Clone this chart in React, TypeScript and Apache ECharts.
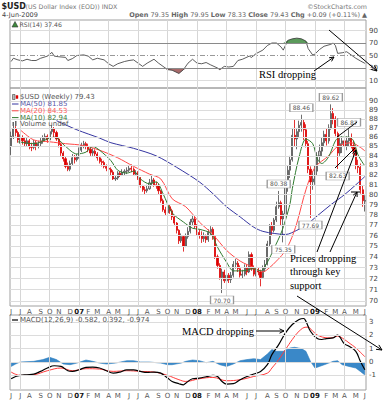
import React, { useEffect, useRef } from "react";
import * as echarts from "echarts";

const FONT = "DejaVu Sans";
const SERIF = "Liberation Serif";

const START_MS = Date.UTC(2006, 5, 5);
const WEEK_MS = 7 * 86400000;
const WEEK_COUNT = 157;
const weeks: string[] = Array.from({ length: WEEK_COUNT }, (_, i) =>
  new Date(START_MS + i * WEEK_MS).toISOString().slice(0, 10)
);

// weekly [open, close, low, high]
const ohlc: number[][] = [
  [85.0, 86.1, 84.1, 86.6], [86.1, 86.9, 85.8, 87.3], [86.9, 86.5, 86.1, 87.2], [86.5, 85.7, 85.4, 86.7],
  [85.7, 85.9, 85.3, 86.3], [85.9, 85.6, 85.2, 86.2], [85.6, 85.3, 85.0, 86.0], [85.3, 85.6, 85.0, 85.9],
  [85.6, 85.0, 84.7, 85.8], [85.0, 84.9, 84.5, 85.4], [84.9, 85.4, 84.7, 85.7], [85.4, 85.0, 84.6, 85.6],
  [85.0, 85.3, 84.8, 85.6], [85.3, 85.6, 85.0, 85.9], [85.6, 85.9, 85.3, 86.2], [85.9, 86.1, 85.6, 86.4],
  [86.1, 85.7, 85.4, 86.3], [85.7, 86.6, 85.5, 86.9], [86.6, 86.9, 86.3, 87.3], [86.9, 86.5, 86.0, 87.1],
  [86.5, 85.8, 85.6, 86.7], [85.8, 85.2, 84.9, 86.0], [85.2, 84.3, 84.0, 85.4], [84.3, 83.7, 83.4, 84.5],
  [83.7, 82.9, 82.7, 83.9], [82.9, 82.6, 82.4, 83.3], [82.6, 83.2, 82.4, 83.5], [83.2, 83.8, 83.0, 84.2],
  [83.8, 83.6, 83.2, 84.1], [83.6, 83.9, 83.4, 84.2], [83.9, 84.6, 83.7, 84.9], [84.6, 85.1, 84.4, 85.4],
  [85.1, 85.3, 84.8, 85.6], [85.3, 85.0, 84.7, 85.5], [85.0, 84.7, 84.4, 85.3], [84.7, 84.3, 84.0, 84.9],
  [84.3, 84.5, 84.0, 84.8], [84.5, 84.2, 83.9, 84.7], [84.2, 83.8, 83.5, 84.4], [83.8, 83.4, 83.2, 84.0],
  [83.4, 83.3, 82.9, 83.7], [83.3, 82.9, 82.7, 83.5], [82.9, 82.7, 82.4, 83.1], [82.7, 82.6, 82.3, 83.0],
  [82.6, 82.3, 82.0, 82.8], [82.3, 81.6, 81.5, 82.5], [81.6, 81.7, 81.4, 82.0], [81.7, 82.2, 81.5, 82.4],
  [82.2, 82.0, 81.8, 82.4], [82.0, 82.3, 81.9, 82.6], [82.3, 82.4, 82.0, 82.6], [82.4, 82.5, 82.1, 82.8],
  [82.5, 82.7, 82.3, 83.0], [82.7, 82.6, 82.3, 83.1], [82.6, 82.1, 81.9, 82.8], [82.1, 82.2, 81.9, 82.5],
  [82.2, 81.7, 81.5, 82.4], [81.7, 80.9, 80.7, 81.8], [80.9, 80.5, 80.3, 81.0], [80.5, 80.4, 80.0, 80.8],
  [80.4, 80.6, 80.2, 81.0], [80.6, 81.2, 80.5, 81.6], [81.2, 81.5, 80.9, 82.0], [81.5, 81.0, 80.8, 81.7],
  [81.0, 80.9, 80.6, 81.3], [80.9, 80.4, 80.0, 81.1], [80.4, 79.4, 79.2, 80.5], [79.4, 78.5, 78.3, 79.6],
  [78.5, 78.2, 77.9, 78.8], [78.2, 78.8, 78.0, 79.1], [78.8, 78.4, 78.1, 79.0], [78.4, 77.8, 77.5, 78.6],
  [77.8, 77.2, 76.9, 78.0], [77.2, 76.5, 76.2, 77.3], [76.5, 75.5, 75.2, 76.6], [75.5, 75.9, 75.3, 76.2],
  [75.9, 75.0, 74.48, 76.0], [75.0, 75.9, 74.9, 76.2], [75.9, 76.4, 75.7, 76.8], [76.4, 77.3, 76.2, 77.6],
  [77.3, 77.6, 77.0, 77.9], [77.6, 76.9, 76.7, 77.8], [76.9, 76.3, 76.0, 77.1], [76.3, 76.0, 75.7, 76.6],
  [76.0, 75.7, 75.3, 76.4], [75.7, 75.9, 75.4, 76.3], [75.9, 75.6, 75.3, 76.1], [75.6, 76.3, 75.4, 76.6],
  [76.3, 76.6, 76.0, 76.9], [76.6, 75.9, 75.6, 76.8], [75.9, 74.0, 73.8, 76.0], [74.0, 73.2, 72.9, 74.2],
  [73.2, 72.1, 71.9, 73.4], [72.1, 72.6, 70.7, 72.9], [72.6, 71.8, 71.6, 72.8], [71.8, 72.3, 71.6, 72.6],
  [72.3, 71.9, 71.6, 72.5], [71.9, 72.3, 71.6, 72.6], [72.3, 73.3, 72.1, 73.6], [73.3, 73.4, 72.9, 73.8],
  [73.4, 72.9, 72.6, 73.6], [72.9, 72.3, 72.1, 73.2], [72.3, 72.4, 72.0, 72.8], [72.4, 73.0, 72.2, 73.3],
  [73.0, 72.6, 72.3, 73.3], [72.6, 74.2, 72.5, 74.5], [74.2, 72.9, 72.7, 74.4], [72.9, 72.4, 72.2, 73.2],
  [72.4, 72.7, 72.2, 73.0], [72.7, 72.6, 72.3, 73.0], [72.6, 72.1, 71.3, 72.8], [72.1, 72.9, 72.0, 73.2],
  [72.9, 73.3, 72.6, 73.7], [73.3, 75.2, 73.2, 75.5], [75.2, 76.9, 75.0, 77.1], [76.9, 76.5, 76.0, 77.3],
  [76.5, 77.5, 76.3, 77.7], [77.5, 78.8, 77.3, 79.3], [78.8, 79.2, 78.6, 80.38], [79.2, 77.6, 77.0, 79.4],
  [77.6, 78.1, 75.35, 78.4], [78.1, 80.8, 77.8, 81.0], [80.8, 82.5, 80.3, 83.0], [82.5, 83.6, 81.7, 84.0],
  [83.6, 86.2, 83.4, 87.0], [86.2, 85.8, 85.0, 87.9], [85.8, 86.6, 84.7, 87.0], [86.6, 87.3, 85.9, 87.8],
  [87.3, 87.6, 86.6, 88.46], [87.6, 86.8, 85.7, 87.9], [86.8, 85.3, 84.9, 87.4], [85.3, 82.6, 82.2, 85.6],
  [82.6, 81.3, 77.69, 82.9], [81.3, 81.6, 80.5, 82.4], [81.6, 82.4, 81.0, 83.0], [82.4, 84.0, 81.9, 84.4],
  [84.0, 84.5, 83.3, 85.2], [84.5, 85.4, 83.9, 86.0], [85.4, 86.3, 85.0, 86.7], [86.3, 85.6, 85.1, 86.9],
  [85.6, 87.0, 85.3, 87.4], [87.0, 88.6, 86.8, 89.62], [88.6, 88.0, 87.4, 89.2], [88.0, 86.4, 86.1, 88.3],
  [86.4, 84.3, 82.63, 86.6], [84.3, 85.3, 84.0, 86.0], [85.3, 85.6, 84.3, 86.1], [85.6, 85.0, 84.4, 86.3],
  [85.0, 85.6, 84.6, 86.1], [85.6, 85.9, 85.0, 86.87], [85.9, 85.1, 84.8, 86.4], [85.1, 84.5, 83.9, 85.6],
  [84.5, 83.0, 82.6, 84.9], [83.0, 82.8, 82.2, 83.6], [82.8, 80.5, 80.1, 83.2], [80.5, 79.4, 78.8, 80.9],
  [79.35, 79.43, 78.33, 79.95],
];

// moving averages: [week index, value]
const ma50: number[][] = [
  [20, 87.8], [29, 86.8], [39, 85.9], [44, 85.4], [54, 84.8], [64, 84.0], [73, 82.8], [83, 81.3],
  [89, 80.1], [95, 78.8], [101, 77.8], [107, 76.8], [111, 76.4], [116, 76.2], [121, 76.1], [126, 76.5],
  [130, 77.0], [135, 77.9], [141, 79.0], [147, 80.0], [152, 81.0], [156, 81.85],
];
const ma20: number[][] = [
  [4, 86.8], [10, 85.7], [17, 85.5], [24, 85.3], [32, 85.1], [39, 84.6], [47, 83.8], [54, 82.9],
  [61, 82.1], [66, 81.6], [71, 79.6], [77, 78.8], [83, 77.3], [89, 76.1], [95, 74.6], [101, 73.6],
  [107, 73.0], [111, 72.6], [114, 73.0], [117, 73.6], [120, 74.3], [123, 75.4], [126, 77.2], [130, 80.5],
  [134, 82.8], [140, 84.0], [144, 85.0], [150, 85.4], [154, 84.9], [156, 84.53],
];
const ma10: number[][] = [
  [3, 85.5], [10, 85.3], [19, 86.0], [24, 85.0], [29, 84.2], [33, 84.4], [36, 85.0], [39, 84.6],
  [44, 83.5], [47, 82.5], [51, 82.2], [54, 82.4], [57, 81.6], [61, 81.1], [64, 81.3], [67, 80.1],
  [71, 78.2], [76, 77.3], [80, 76.7], [83, 76.6], [88, 76.2], [91, 74.9], [95, 73.5], [98, 72.7],
  [102, 72.7], [107, 72.9], [110, 72.7], [113, 73.5], [116, 74.8], [119, 76.2], [121, 77.5], [123, 79.1],
  [124, 80.6], [127, 83.9], [130, 85.8], [133, 85.3], [135, 83.7], [137, 83.2], [140, 83.9], [143, 85.6],
  [145, 86.0], [149, 86.0], [151, 85.6], [153, 84.1], [156, 82.94],
];

const rsi: number[][] = [
  [0, 40.4], [1, 45.6], [3, 43], [5, 41.4], [7, 44], [9, 42], [11, 42], [13, 45.6], [16, 49], [18, 55],
  [19, 49], [21, 48], [24, 47], [25, 42], [27, 45], [29, 50], [32, 51], [34, 49], [36, 43], [38, 45.6],
  [41, 43], [43, 36.8], [45, 32.6], [47, 36.8], [50, 40.4], [52, 42], [54, 43], [56, 37.8], [58, 32.6],
  [60, 37.8], [63, 44], [65, 37.8], [67, 32.6], [69, 27.4], [71, 26.4], [74, 21.2], [76, 27.4], [78, 37.8],
  [80, 44], [82, 37.8], [84, 36.8], [86, 38.8], [88, 35], [91, 30], [92, 27.4], [94, 32.6], [96, 31.6],
  [98, 32.6], [100, 42], [102, 44], [105, 49], [106, 47], [108, 53], [111, 58.6], [113, 66], [115, 70],
  [117, 70], [119, 63.8], [120, 58.6], [122, 74.2], [124, 76.7], [126, 77.8], [128, 76.7], [130, 73.1],
  [131, 61], [133, 50.8], [134, 52.3], [136, 59.6], [138, 64.8], [141, 67.9], [142, 70], [143, 66],
  [144, 53.4], [146, 54.4], [148, 56], [150, 50.8], [152, 45.6], [154, 41.4], [156, 37.46],
];

const macd: number[][] = [
  [0, -1.25], [2, -1.08], [4, -1.0], [7, -0.95], [10, -0.9], [13, -0.7], [16, -0.45], [19, -0.28],
  [22, -0.33], [25, -0.65], [27, -0.7], [30, -0.58], [33, -0.4], [36, -0.38], [39, -0.45], [42, -0.65],
  [45, -0.83], [48, -0.75], [51, -0.58], [54, -0.58], [57, -0.7], [60, -0.78], [63, -0.75], [66, -0.83],
  [69, -1.2], [71, -1.45], [74, -1.62], [76, -1.7], [77, -1.58], [80, -1.25], [83, -1.2], [86, -1.1],
  [89, -1.0], [91, -1.08], [93, -1.45], [95, -1.65], [98, -1.62], [101, -1.32], [104, -1.08], [107, -0.9],
  [110, -0.7], [113, -0.2], [115, 0.55], [118, 1.3], [121, 2.18], [124, 2.8], [127, 3.18], [129, 3.25],
  [130, 3.05], [132, 2.3], [135, 1.75], [137, 1.68], [139, 1.75], [142, 1.8], [144, 2.0], [145, 1.85],
  [147, 1.35], [149, 1.18], [152, 0.8], [154, 0.05], [156, -0.582],
];
const signal: number[][] = [
  [0, -0.75], [4, -1.0], [10, -0.95], [16, -0.65], [22, -0.45], [27, -0.65], [33, -0.5], [39, -0.53],
  [45, -0.7], [51, -0.65], [57, -0.7], [63, -0.75], [69, -1.0], [74, -1.32], [77, -1.45], [83, -1.25],
  [89, -1.15], [95, -1.4], [101, -1.32], [107, -1.08], [113, -0.83], [115, -0.45], [118, 0.18], [121, 0.93],
  [124, 1.68], [127, 2.3], [130, 2.6], [131, 2.6], [133, 2.3], [136, 1.93], [141, 1.8], [144, 1.93],
  [147, 1.68], [149, 1.43], [152, 1.05], [156, 0.392],
];
const histogram: number[][] = [
  [0, -0.33], [2, -0.15], [4, 0], [10, 0.05], [14, 0.18], [17, 0.35], [20, 0.18], [23, -0.15], [26, -0.2],
  [29, -0.08], [33, 0.15], [36, 0.05], [39, -0.08], [42, -0.15], [46, -0.08], [51, 0.1], [54, 0.1], [57, 0],
  [61, 0], [66, -0.08], [69, -0.2], [71, -0.2], [75, -0.08], [77, 0.05], [80, 0.15], [83, 0.1], [86, -0.05],
  [89, 0.05], [92, -0.2], [95, -0.33], [98, -0.15], [101, 0.1], [104, 0.18], [107, 0.25], [110, 0.18],
  [113, 0.6], [115, 0.93], [117, 0.8], [120, 0.8], [123, 1.05], [125, 1.1], [128, 1.0], [130, 0.8],
  [132, 0.05], [134, -0.45], [136, -0.33], [139, -0.15], [142, 0.05], [144, 0.1], [146, -0.2], [149, -0.33],
  [152, -0.45], [154, -0.7], [156, -0.974],
];

const swingIdx = [93, 118, 120, 128, 132, 141, 144, 149];
const swingVal = [70.7, 80.38, 75.35, 88.46, 77.69, 89.62, 82.63, 86.87];
const swingHigh = [false, true, false, true, false, true, false, true];

const priceTicks = [70, 71, 72, 73, 74, 75, 76, 77, 78, 79, 80, 81, 82, 83, 84, 85, 86, 87, 88, 89, 90];
const rsiTicks = [90, 70, 50, 30, 10];
const macdTicks = [3, 2, 1, 0, -1];

const MONTH_LETTERS = "JFMAMJJASOND";
const monthLabel: Record<number, string> = {};
const quarterIdx: number[] = [];
for (let y = 2006; y <= 2009; y++) {
  for (let m = 0; m < 12; m++) {
    const raw = Math.round((Date.UTC(y, m, 1) - START_MS) / WEEK_MS);
    if (raw < -1 || raw > WEEK_COUNT - 1) continue;
    const idx = Math.max(0, raw);
    monthLabel[idx] = m === 0 ? `{y|${String(y % 100).padStart(2, "0")}}` : MONTH_LETTERS[m];
    if (m % 3 === 0 && raw > 0) quarterIdx.push(idx);
  }
}

const L = (v: number) => Math.log(v);

function arrow(x1: number, y1: number, x2: number, y2: number, head = 5, w = 1) {
  const a = Math.atan2(y2 - y1, x2 - x1);
  const style = { stroke: "#000", lineWidth: w, fill: null };
  const p1 = [x2 - head * Math.cos(a - 0.45), y2 - head * Math.sin(a - 0.45)];
  const p2 = [x2 - head * Math.cos(a + 0.45), y2 - head * Math.sin(a + 0.45)];
  return [
    { type: "line", z: 100, shape: { x1, y1, x2, y2 }, style },
    { type: "polyline", z: 100, shape: { points: [p1, [x2, y2], p2] }, style },
  ];
}
function seg(x1: number, y1: number, x2: number, y2: number, w = 1, stroke = "#000") {
  return { type: "line", z: 100, shape: { x1, y1, x2, y2 }, style: { stroke, lineWidth: w } };
}
function txt(x: number, y: number, text: string, font: string, fill: string, align = "left", rich?: any) {
  return { type: "text", z: 100, x, y, style: { text, font, fill, align, verticalAlign: "middle", rich } };
}

export default function App() {
  const ref = useRef<HTMLDivElement>(null);
  useEffect(() => {
    if (!ref.current) return;
    const chart = echarts.init(ref.current, null, { renderer: "svg", width: 388, height: 400 });

    const vLines = quarterIdx.map((i) => ({
      xAxis: weeks[i],
      lineStyle: { color: "#d6d6d6", width: 1, type: "solid" },
      label: { show: false },
    }));
    const axisLbl = { fontFamily: FONT, fontSize: 7, color: "#444", distance: 3, position: "end" };
    const gridSeries = (g: number, hLines: any[]) => ({
      type: "line",
      xAxisIndex: g,
      yAxisIndex: g,
      data: [],
      silent: true,
      z: 1,
      markLine: { silent: true, symbol: ["none", "none"], animation: false, precision: 10, data: [...vLines, ...hLines] },
    });

    const priceH = priceTicks.map((t) => ({
      yAxis: L(t),
      lineStyle: { color: "#dcdcdc", width: 1, type: "solid" },
      label: { ...axisLbl, formatter: String(t) },
    }));
    const rsiH = rsiTicks.map((t) => ({
      yAxis: t,
      lineStyle:
        t === 50
          ? { color: "#999", width: 1, type: [5, 2, 1, 2] }
          : t === 30 || t === 70
          ? { color: "#8a8a8a", width: 1, type: "solid" }
          : { color: "#dcdcdc", width: 1, type: "solid" },
      label: { ...axisLbl, formatter: String(t) },
    }));
    const macdH = macdTicks.map((t) => ({
      yAxis: t,
      lineStyle: { color: "#dcdcdc", width: 1, type: "solid" },
      label: { ...axisLbl, formatter: String(t) },
    }));

    const xAxisBase = (g: number, showLabels: boolean) => ({
      type: "category",
      gridIndex: g,
      data: weeks,
      boundaryGap: true,
      axisLine: { show: false },
      axisTick: { show: false },
      splitLine: { show: false },
      axisLabel: showLabels
        ? {
            show: true,
            interval: (idx: number) => monthLabel[idx] !== undefined,
            formatter: (_v: string, idx: number) => monthLabel[idx] ?? "",
            fontFamily: FONT,
            fontSize: 7,
            color: "#555",
            margin: 2,
            rich: { y: { fontFamily: FONT, fontSize: 7, fontWeight: "bold", color: "#111" } },
          }
        : { show: false },
    });

    const markPoints = swingIdx.map((i, k) => ({
      coord: [weeks[i], L(swingVal[k])],
      symbol: "rect",
      symbolSize: [23, 8],
      symbolOffset: [0, swingHigh[k] ? -7 : 7],
      itemStyle: { color: "#fff", borderColor: "#9a9a9a", borderWidth: 0.8 },
      label: {
        show: true,
        position: "inside",
        formatter: swingVal[k].toFixed(2),
        fontFamily: FONT,
        fontSize: 6,
        color: "#555",
      },
    }));

    const lineS = (g: number, data: number[][], color: string, width: number, smooth: number | boolean, z = 4) => ({
      type: "line",
      xAxisIndex: g,
      yAxisIndex: g,
      data,
      showSymbol: false,
      smooth,
      silent: true,
      z,
      lineStyle: { color, width },
    });

    const graphics: any[] = [
      txt(1.5, 6, "$USD", `bold 8px ${FONT}`, "#222"),
      txt(25.5, 6.5, "(US Dollar Index (EOD)) INDX", `6.3px ${FONT}`, "#777"),
      txt(367, 6.5, "©StockCharts.com", `6.3px ${FONT}`, "#777", "right"),
      txt(2, 15, "4-Jun-2009", `6.5px ${FONT}`, "#444"),
      txt(
        367,
        15,
        "{l|Open} {v|79.35} {l|High} {v|79.95} {l|Low} {v|78.33} {l|Close} {v|79.43} {l|Chg} {v|+0.09 (+0.11%)} {v|▲}",
        `6.5px ${FONT}`,
        "#666",
        "right",
        {
          l: { fontWeight: "bold", fontSize: 6.5, fontFamily: FONT, color: "#111" },
          v: { fontSize: 6.5, fontFamily: FONT, color: "#777" },
        }
      ),
      // RSI legend
      { type: "polygon", z: 100, shape: { points: [[12, 27], [15, 21.5], [18, 27]] }, style: { fill: "#3d8a3d", stroke: "#333", lineWidth: 0.6 } },
      txt(19.5, 24.5, "RSI(14) 37.46", `6.2px ${FONT}`, "#555"),
      // price legend
      { type: "rect", z: 100, shape: { x: 12.5, y: 94.5, width: 2.5, height: 5 }, style: { fill: "#bbb", stroke: "#444", lineWidth: 0.6 } },
      { type: "rect", z: 100, shape: { x: 16, y: 95.5, width: 2, height: 3 }, style: { fill: "#d00", stroke: "#d00", lineWidth: 0.4 } },
      txt(20, 97.3, "$USD (Weekly) 79.43", `7px ${FONT}`, "#555"),
      seg(12, 104, 18.5, 104, 1, "#3535a0"),
      txt(20, 104, "MA(50) 81.85", `7px ${FONT}`, "#5a5aa8"),
      seg(12, 110.8, 18.5, 110.8, 1, "#ff4848"),
      txt(20, 110.8, "MA(20) 84.53", `7px ${FONT}`, "#ff5a5a"),
      seg(12, 117.6, 18.5, 117.6, 1, "#2f7a2f"),
      txt(20, 117.6, "MA(10) 82.94", `7px ${FONT}`, "#3e7a3e"),
      { type: "rect", z: 100, shape: { x: 12.5, y: 122, width: 1.5, height: 4 }, style: { fill: "#666" } },
      { type: "rect", z: 100, shape: { x: 15, y: 121, width: 1.5, height: 5 }, style: { fill: "#666" } },
      txt(20, 124.4, "Volume undef", `7px ${FONT}`, "#555"),
      // MACD legend
      seg(12, 320, 18, 320, 1.2),
      txt(
        20,
        320,
        "{a|MACD(12,26,9) -0.582,} {b|0.392,} {c|-0.974}",
        `7px ${FONT}`,
        "#555",
        "left",
        {
          a: { fontSize: 7, fontFamily: FONT, color: "#555" },
          b: { fontSize: 7, fontFamily: FONT, color: "#ff4a4a" },
          c: { fontSize: 7, fontFamily: FONT, color: "#4a8ad0" },
        }
      ),
      // annotations
      txt(259, 74, "RSI dropping", `10.5px ${SERIF}`, "#000"),
      ...arrow(314, 71, 334, 57, 5),
      ...arrow(329, 30, 377, 71, 6),
      txt(290, 258, "Prices dropping", `10.5px ${SERIF}`, "#000"),
      txt(290, 271.5, "through key", `10.5px ${SERIF}`, "#000"),
      txt(290, 285, "support", `10.5px ${SERIF}`, "#000"),
      seg(337, 137, 357, 122),
      seg(335, 168, 355, 148),
      ...arrow(317, 252, 356, 150, 5),
      ...arrow(330, 252, 357, 192, 5),
      seg(351, 192, 360, 192),
      txt(182, 331, "MACD dropping", `10.5px ${SERIF}`, "#000"),
      ...arrow(256, 331, 284, 331, 5),
      ...arrow(297, 296, 382, 350, 6),
    ];

    const option: any = {
      animation: false,
      backgroundColor: "#fff",
      grid: [
        { left: 10, width: 356, top: 20, height: 68, show: true, borderColor: "#a0a0a0", borderWidth: 1, backgroundColor: "transparent" },
        { left: 10, width: 356, top: 88, height: 218, show: true, borderColor: "#a0a0a0", borderWidth: 1, backgroundColor: "transparent" },
        { left: 10, width: 356, top: 315, height: 75, show: true, borderColor: "#a0a0a0", borderWidth: 1, backgroundColor: "transparent" },
      ],
      xAxis: [xAxisBase(0, false), xAxisBase(1, true), xAxisBase(2, true)],
      yAxis: [
        { type: "value", gridIndex: 0, min: -2, max: 106.8, show: false },
        { type: "value", gridIndex: 1, min: L(69.56), max: L(91.48), show: false },
        { type: "value", gridIndex: 2, min: -2.09, max: 3.51, show: false },
      ],
      graphic: graphics,
      series: [
        gridSeries(0, rsiH),
        gridSeries(1, priceH),
        gridSeries(2, macdH),
        // RSI
        {
          ...lineS(0, rsi.map(([i, v]) => [i, Math.max(v, 70)]), "rgba(0,0,0,0)", 0, false, 2),
          areaStyle: { origin: 70, color: "#5b9a5b", opacity: 1 },
        },
        {
          ...lineS(0, rsi.map(([i, v]) => [i, Math.min(v, 30)]), "rgba(0,0,0,0)", 0, false, 2),
          areaStyle: { origin: 30, color: "#a86a6a", opacity: 1 },
        },
        lineS(0, rsi, "#333", 0.8, false, 4),
        // price
        {
          type: "candlestick",
          xAxisIndex: 1,
          yAxisIndex: 1,
          z: 3,
          silent: true,
          barWidth: "72%",
          data: ohlc.map(([o, c, l, h]) => [L(o), L(c), L(l), L(h)]),
          itemStyle: { color: "#cfcfcf", color0: "#dd0000", borderColor: "#4a4a4a", borderColor0: "#dd0000", borderWidth: 0.8 },
          markPoint: { silent: true, animation: false, data: markPoints },
        },
        lineS(1, ma50.map(([i, v]) => [i, L(v)]), "#3535a0", 1, 0.3),
        lineS(1, ma20.map(([i, v]) => [i, L(v)]), "#ff4848", 1, 0.3),
        lineS(1, ma10.map(([i, v]) => [i, L(v)]), "#2f7a2f", 1, 0.3),
        // MACD
        {
          ...lineS(2, histogram, "#2f7fbf", 0.6, false, 2),
          areaStyle: { color: "#3a88c8", opacity: 1 },
        },
        lineS(2, signal, "#ff3a3a", 1, 0.4),
        lineS(2, macd, "#000", 1.2, 0.4),
      ],
    };
    chart.setOption(option);
    return () => chart.dispose();
  }, []);
  return (
    <div
      ref={ref}
      style={{ position: "absolute", left: 0, top: 0, width: 388, height: 400, background: "#fff" }}
    />
  );
}
